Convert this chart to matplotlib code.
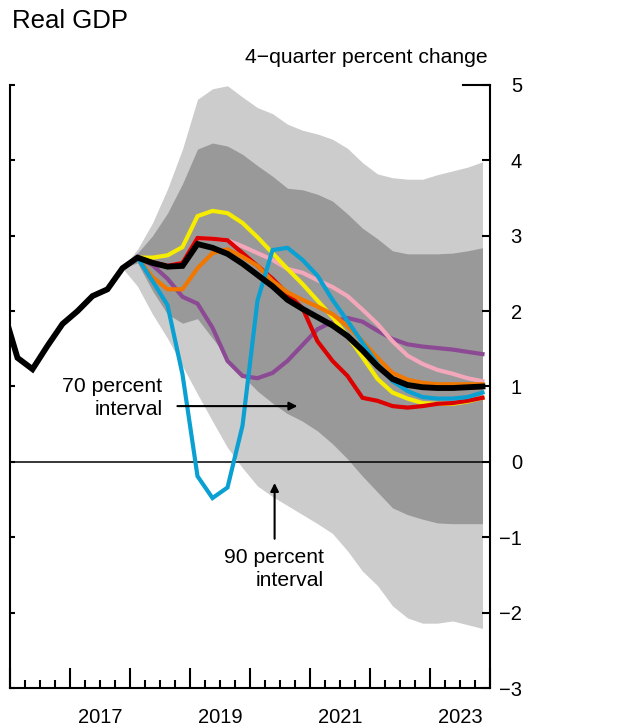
import numpy as np
import pandas as pd
import matplotlib
matplotlib.use('Agg')
import matplotlib.pyplot as plt
from matplotlib.lines import Line2D

plt.rcParams['font.family'] = ['Liberation Sans', 'DejaVu Sans']

# Quarterly dates (history starts 2015Q4, forecast ends 2023Q4)
quarters = pd.period_range('2015Q4', '2023Q4', freq='Q')
fan_quarters = pd.period_range('2017Q4', '2023Q4', freq='Q')
alt_quarters = pd.period_range('2018Q1', '2023Q4', freq='Q')

# Baseline (black), 4-quarter percent change
baseline = [2.05,
            1.38, 1.23, 1.54, 1.83,
            2.00, 2.20, 2.29, 2.57,
            2.71, 2.64, 2.59, 2.60,
            2.89, 2.84, 2.76, 2.63,
            2.48, 2.33, 2.15, 2.03,
            1.92, 1.81, 1.67, 1.48,
            1.27, 1.10, 1.02, 0.99,
            0.98, 0.98, 0.99, 1.00]

# Confidence bands (from 2017Q4)
upper90 = [2.57, 2.82, 3.17, 3.62, 4.15, 4.81, 4.95, 4.99, 4.84, 4.70, 4.62, 4.48, 4.40,
           4.35, 4.28, 4.16, 3.97, 3.82, 3.77, 3.75, 3.75, 3.81, 3.86, 3.91, 3.98]
upper70 = [2.57, 2.77, 3.00, 3.30, 3.69, 4.15, 4.23, 4.19, 4.08, 3.93, 3.79, 3.63, 3.61,
           3.55, 3.46, 3.29, 3.10, 2.96, 2.80, 2.76, 2.76, 2.76, 2.77, 2.80, 2.84]
lower70 = [2.57, 2.64, 2.27, 1.96, 1.84, 1.90, 1.64, 1.38, 1.14, 0.94, 0.78, 0.64, 0.54,
           0.41, 0.24, 0.04, -0.19, -0.40, -0.61, -0.70, -0.76, -0.81, -0.82, -0.82, -0.82]
lower90 = [2.57, 2.33, 1.96, 1.64, 1.27, 0.90, 0.54, 0.19, -0.08, -0.32, -0.46, -0.58, -0.70,
           -0.82, -0.95, -1.18, -1.45, -1.64, -1.91, -2.07, -2.14, -2.14, -2.11, -2.16, -2.21]

# Alternative scenarios (from 2018Q1)
purple = [2.71, 2.61, 2.43, 2.19, 2.10, 1.78, 1.34, 1.14, 1.11, 1.18, 1.34, 1.55,
          1.76, 1.86, 1.91, 1.86, 1.74, 1.63, 1.56, 1.53, 1.51, 1.49, 1.46, 1.43]
pink = [2.71, 2.65, 2.60, 2.64, 2.97, 2.96, 2.94, 2.86, 2.77, 2.68, 2.56, 2.51,
        2.41, 2.32, 2.20, 2.02, 1.83, 1.60, 1.41, 1.30, 1.22, 1.17, 1.11, 1.07]
yellow = [2.71, 2.71, 2.74, 2.85, 3.26, 3.33, 3.30, 3.17, 2.98, 2.77, 2.56, 2.36,
          2.14, 1.92, 1.67, 1.39, 1.10, 0.92, 0.84, 0.78, 0.77, 0.77, 0.80, 0.85]
red = [2.71, 2.65, 2.60, 2.64, 2.97, 2.96, 2.94, 2.77, 2.60, 2.43, 2.23, 2.04,
       1.60, 1.34, 1.14, 0.85, 0.81, 0.74, 0.72, 0.74, 0.77, 0.78, 0.81, 0.85]
orange = [2.71, 2.45, 2.29, 2.29, 2.57, 2.77, 2.82, 2.72, 2.60, 2.40, 2.25, 2.15,
          2.06, 1.96, 1.80, 1.60, 1.38, 1.18, 1.09, 1.05, 1.03, 1.03, 1.03, 1.03]
blue = [2.71, 2.40, 2.08, 1.16, -0.19, -0.48, -0.34, 0.48, 2.14, 2.81, 2.84, 2.68,
        2.47, 2.15, 1.87, 1.58, 1.30, 1.07, 0.94, 0.86, 0.84, 0.84, 0.86, 0.92]

year_labels = [2017, 2019, 2021, 2023]


def to_x(periods):
    # place each quarter at its midpoint
    return np.array([p.year + (p.quarter - 0.5) / 4 for p in periods])


x_all = to_x(quarters)
x_fan = to_x(fan_quarters)
x_alt = to_x(alt_quarters)

fig = plt.figure(figsize=(6.18, 7.28), dpi=100)
W, H = 618, 728
ax = fig.add_axes([10 / W, (H - 688) / H, 480 / W, 603 / H])

# fan
ax.fill_between(x_fan, lower90, upper90, color='#cccccc', lw=0)
ax.fill_between(x_fan, lower70, upper70, color='#999999', lw=0)
ax.axhline(0, color='black', lw=1.1)

lw = 3.0
ax.plot(x_alt, purple, color='#8b4a93', lw=lw, solid_joinstyle='miter')
ax.plot(x_alt, pink, color='#f2a7ba', lw=lw, solid_joinstyle='miter')
ax.plot(x_alt, yellow, color='#f5ec00', lw=lw, solid_joinstyle='miter')
ax.plot(x_alt, red, color='#dc0000', lw=lw, solid_joinstyle='miter')
ax.plot(x_alt, orange, color='#f07800', lw=lw, solid_joinstyle='miter')
ax.plot(x_alt, blue, color='#0aa0d2', lw=lw, solid_joinstyle='miter')
ax.plot(x_all, baseline, color='black', lw=4.2, solid_joinstyle='miter')

ax.set_xlim(2016, 2024)
ax.set_ylim(-3, 5)

# axes styling
for s in ['left', 'right', 'bottom']:
    ax.spines[s].set_linewidth(1.5)
ax.spines['top'].set_visible(False)

ax.set_xticks(np.arange(2016, 2025))
ax.set_xticks(np.arange(2016, 2024, 0.25), minor=True)
ax.tick_params(axis='x', which='major', direction='in', length=14.5, width=1.5, labelbottom=False)
ax.tick_params(axis='x', which='minor', direction='in', length=6, width=1.5)
ax.set_yticks(np.arange(-3, 6))
ax.tick_params(axis='y', which='major', direction='in', length=3.6, width=1.5, labelleft=False)

ax2 = ax.twinx()
ax2.set_ylim(-3, 5)
ax2.set_yticks(np.arange(-3, 6))
ax2.set_yticklabels([str(v).replace('-', '\u2212') for v in range(-3, 6)])
ax2.tick_params(axis='y', direction='in', length=6, width=1.5, labelsize=14.5, pad=23)
for lab in ax2.get_yticklabels():
    lab.set_horizontalalignment('right')
for s in ax2.spines.values():
    s.set_visible(False)

# long tick at the top right
ax.add_line(Line2D([1 - 27 / 480, 1], [1, 1], transform=ax.transAxes, color='black',
                   lw=1.5, clip_on=False))

for yr in year_labels:
    ax.annotate(str(yr), xy=(yr + 0.5, 0), xycoords=('data', 'axes fraction'),
                xytext=(0, -21), textcoords='offset points', ha='center', va='center',
                fontsize=14.5)

# annotations
ax.text(2018.54, 0.85, '70 percent\ninterval', ha='right', va='center', fontsize=15.2,
        multialignment='right', linespacing=1.3)
ax.annotate('', xy=(2020.79, 0.74), xytext=(2018.79, 0.74),
            arrowprops=dict(arrowstyle='-|>', color='black', lw=1.5, mutation_scale=12,
                            shrinkA=0, shrinkB=0))
ax.text(2021.23, -1.42, '90 percent\ninterval', ha='right', va='center', fontsize=15.2,
        multialignment='right', linespacing=1.3)
ax.annotate('', xy=(2020.41, -0.28), xytext=(2020.41, -1.02),
            arrowprops=dict(arrowstyle='-|>', color='black', lw=1.5, mutation_scale=12,
                            shrinkA=0, shrinkB=0))

fig.text(12 / W, 1 - 28 / H, 'Real GDP', fontsize=18.5, va='baseline', ha='left')
fig.text(488 / W, 1 - 63 / H, '4\u2212quarter percent change', fontsize=15.2, va='baseline',
         ha='right')

fig.savefig('out.png', dpi=100)
